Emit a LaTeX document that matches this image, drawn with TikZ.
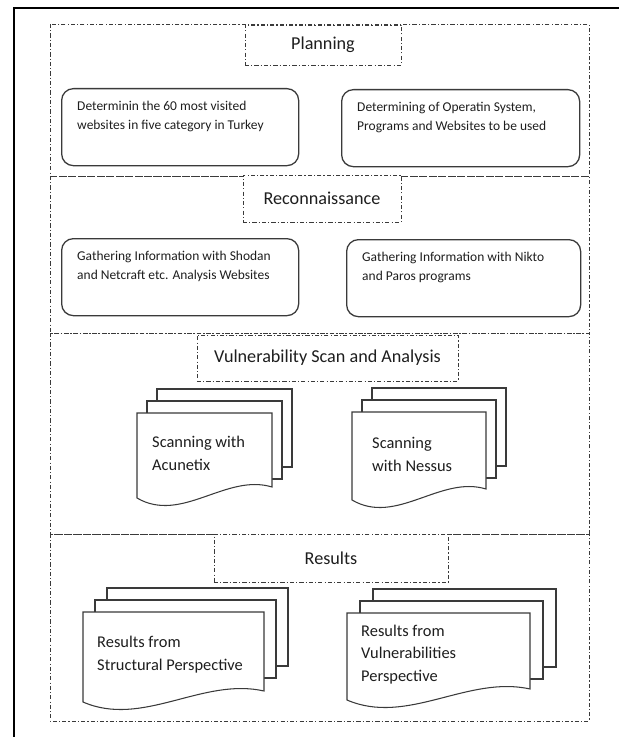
\documentclass[tikz,border=0pt]{standalone}
\usepackage{fontspec}
\setmainfont{Carlito}
\usetikzlibrary{positioning,calc}
\definecolor{ink}{HTML}{1E1E1E}
\definecolor{frameline}{HTML}{3A3A3A}

\begin{document}
\begin{tikzpicture}[x=.03cm,y=-.03cm,line join=miter,
  sect/.style={draw=frameline,line width=.8pt,dash pattern=on 3.5pt off 1.8pt on 1pt off 1.8pt},
  titlebox/.style={sect,fill=white,inner sep=0pt,text=ink,font=\fontsize{15.5}{18}\selectfont},
  roundbox/.style={draw=frameline,line width=1.1pt,rounded corners=10pt,inner sep=0pt,minimum height=2.31cm,anchor=north west},
  boxtext/.style={anchor=north west,inner sep=0pt,align=left,text=ink,font=\fontsize{11.5}{16.2}\selectfont},
  page/.style={draw=frameline,line width=.9pt,fill=white},
  doctext/.style={anchor=west,inner sep=0pt,align=left,text=ink,font=\fontsize{14}{19.5}\selectfont}]
  \useasboundingbox (0,0) rectangle (619,737);
  % outer frame, cut by the page edge
  \draw[line width=1.6pt] (14,737) -- (14,8) -- (619,8);
  % the four stages
  \foreach \ya/\yb in {24/176,176/333,333/534,534/721}
    \draw[sect] (50,\ya) rectangle (589,\yb);
  \node[titlebox,minimum width=4.68cm,minimum height=1.2cm] (planning) at (323,45) {Planning};
  \node[titlebox,minimum width=4.74cm,minimum height=1.41cm] (recon) at (322,198.5) {Reconnaissance};
  \node[titlebox,minimum width=7.83cm,minimum height=1.38cm] (vulnscan) at (327.5,358) {Vulnerability Scan and Analysis};
  \node[titlebox,minimum width=7.02cm,minimum height=1.44cm] (results) at (331,558) {Results};
  % rounded task boxes
  \foreach \nm/\x/\y/\bw/\txt in {
    planA/61/88/7.11cm/{Determinin the 60 most visited\\websites in five category in Turkey},
    planB/341/89/7.14cm/{Determining of Operatin System,\\Programs and Websites to be used},
    reconA/61/238/7.11cm/{Gathering Information with Shodan\\and Netcraft etc. Analysis Websites},
    reconB/346/239/7.02cm/{Gathering Information with Nikto\\and Paros programs}}{
    \node[roundbox,minimum width=\bw] (\nm) at (\x,\y) {};
    \node[boxtext] (\nm-txt) at ($(\nm.north west)+(16,13)$) {\txt};
  }
  % stacked documents
  \foreach \nm/\x/\y/\w/\h/\dx/\tx/\txt in {
    acunetix/137/413/135/85/10/15/{Scanning with\\Acunetix},
    nessus/352/412/134/88/10/20/{Scanning\\with Nessus},
    structural/83/612/181/90/12/14/{Results from\\Structural Perspective},
    vulnres/347/613/183/87/13/14/{Results from\\Vulnerabilities\\Perspective}}{
    \foreach \k/\dy in {2/24,1/12}
      \draw[page] (\x+\k*\dx,\y-\dy) rectangle ++(\w,78);
    \draw[page] (\x,\y) -- (\x+\w,\y) -- (\x+\w,\y+\h-11)
      .. controls (\x+.66*\w,\y+\h-25) and (\x+.33*\w,\y+\h+26) .. (\x,\y+\h) -- cycle;
    \node[doctext] (\nm) at (\x+\tx,\y+\h/2-2) {\txt};
  }
\end{tikzpicture}
\end{document}
